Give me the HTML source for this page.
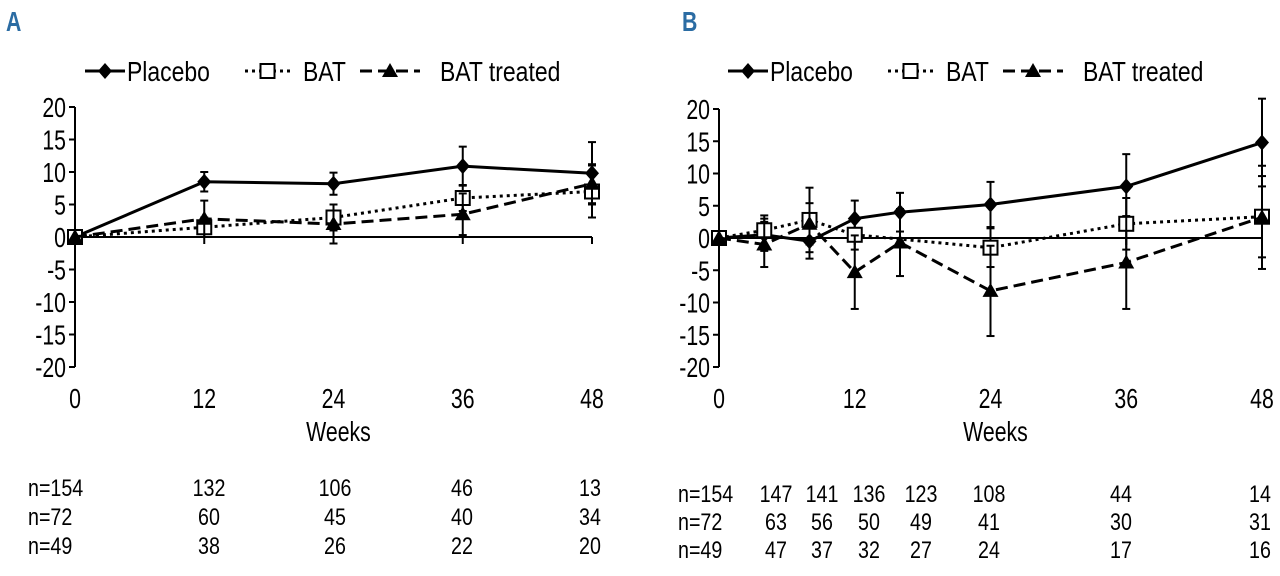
<!DOCTYPE html>
<html><head><meta charset="utf-8"><style>
html,body{margin:0;padding:0;background:#fff;}
svg{display:block;font-family:"Liberation Sans Narrow","Liberation Sans",sans-serif;}
</style></head><body>
<svg id="fig" width="1280" height="576" viewBox="0 0 1280 576"></svg>
<script>
// ---- Panel A data ----
const weeksA = [0, 12, 24, 36, 48];
const placeboA = [0, 8.5, 8.2, 10.9, 9.8];
const placeboErrA = [0, 1.5, 1.7, 3, 4.8];
const batA = [0, 1.5, 3, 6, 7];
const batErrA = [0, 1.5, 2, 2, 4];
const batTreatedA = [0, 2.8, 2, 3.5, 8.2];
const batTreatedErrA = [0, 2.8, 3, 3.2, 3];
// ---- Panel B data ----
const weeksB = [0, 4, 8, 12, 16, 24, 36, 48];
const placeboB = [0, 0.5, -0.5, 3, 4, 5.2, 8, 14.8];
const placeboErrB = [0, 2.5, 2.7, 2.8, 3, 3.5, 5, 6.8];
const weeksBatB = [0, 4, 8, 12, 24, 36, 48];
const batB = [0, 1.2, 2.8, 0.5, -1.5, 2.2, 3.3];
const batErrB = [0, 2.3, 5, 2.3, 3, 4, 6.3];
const batTreatedB = [0, -1, 2.2, -5.3, -0.7, -8.2, -3.8, 3.2];
const batTreatedErrB = [0, 3.5, 3.2, 5.7, 5.2, 7, 7.2, 8];
const yTicks = [20, 15, 10, 5, 0, -5, -10, -15, -20];
const xTicks = [0, 12, 24, 36, 48];
const nLabelsA = [["n=154","132","106","46","13"],["n=72","60","45","40","34"],["n=49","38","26","22","20"]];
const nLabelsB = [["n=154","147","141","136","123","108","44","14"],["n=72","63","56","50","49","41","30","31"],["n=49","47","37","32","27","24","17","16"]];

const NS = "http://www.w3.org/2000/svg";
const svg = document.getElementById("fig");
function mk(tag, attrs, parent, text){
  const e = document.createElementNS(NS, tag);
  for (const k in attrs) e.setAttribute(k, attrs[k]);
  if (text !== undefined) e.textContent = text;
  (parent || svg).appendChild(e);
  return e;
}
function txt(x, y, size, anchor, parent, s, extra, sx){
  const a = Object.assign({x:0, y:0, "font-size":size, "text-anchor":anchor || "start",
    transform:`translate(${x},${y}) scale(${sx || 0.76},1)`}, extra || {});
  return mk("text", a, parent, s);
}
function marker(g, type, x, y){
  let m;
  if (type === "diamond") m = mk("polygon", {points:`${x},${y-8} ${x+7},${y} ${x},${y+8} ${x-7},${y}`, fill:"#000"}, g);
  else if (type === "square") m = mk("rect", {x:x-7, y:y-7, width:14, height:14, fill:"#fff", stroke:"#000", "stroke-width":2}, g);
  else m = mk("polygon", {points:`${x},${y-8} ${x+8},${y+6} ${x-8},${y+6}`, fill:"#000"}, g);
  return m;
}
const dashes = {diamond:"", square:"3,4", triangle:"12,6"};

function panel(opts){
  const {x0, x1, y20, ym20, letter, lx, legendX} = opts;
  const g = mk("g", {});
  
  
  const X = w => x0 + (x1 - x0) * w / 48;
  const Y = v => y20 + (ym20 - y20) * (20 - v) / 40;
  const t = txt(lx, 31, 28, "start", g, letter, {"font-weight":"bold", fill:"#2b6ca3"});
  
  
  // legend
  const leg = mk("g", {}, g);
  
  
  const items = [["diamond","Placebo",0,40,42],["square","BAT",160,45,58],["triangle","BAT treated",275,60,80]];
  items.forEach(([type,label,off,len,tx])=>{
    const e = mk("g", {}, leg);
    
    
    const lx0 = legendX + off;
    mk("line", {x1:lx0, y1:71, x2:lx0+len, y2:71, stroke:"#000", "stroke-width":3, "stroke-dasharray":dashes[type]}, e);
    marker(e, type, lx0+len/2, 71);
    txt(lx0+tx, 81, 28, "start", e, label, null, 0.82);
  });
  // axes
  const ax = mk("g", {}, g);
  
  
  mk("line", {x1:x0, y1:Y(20), x2:x0, y2:Y(-20), stroke:"#000", "stroke-width":2}, ax);
  yTicks.forEach(v=>{
    mk("line", {x1:x0-6, y1:Y(v), x2:x0, y2:Y(v), stroke:"#000", "stroke-width":2}, ax);
    txt(x0-9, Y(v)+10, 28, "end", ax, String(v));
  });
  const xa = mk("g", {}, g);
  
  
  mk("line", {x1:x0, y1:Y(0), x2:x1, y2:Y(0), stroke:"#000", "stroke-width":2}, xa);
  xTicks.forEach(w=>{
    mk("line", {x1:X(w), y1:Y(0), x2:X(w), y2:Y(0)+7, stroke:"#000", "stroke-width":2}, xa);
    txt(X(w), 408, 28, "middle", xa, String(w));
  });
  const xt = txt((x0+x1)/2 + 5, 441, 28, "middle", g, "Weeks");
  
  
  // series
  opts.series.forEach(s=>{
    const sg = mk("g", {}, g);
    
    
    s.w.forEach((w,i)=>{
      if (!s.e[i]) return;
      const x = X(w);
      mk("line", {x1:x, y1:Y(s.v[i]+s.e[i]), x2:x, y2:Y(s.v[i]-s.e[i]), stroke:"#000", "stroke-width":2}, sg);
      mk("line", {x1:x-4, y1:Y(s.v[i]+s.e[i]), x2:x+4, y2:Y(s.v[i]+s.e[i]), stroke:"#000", "stroke-width":2}, sg);
      mk("line", {x1:x-4, y1:Y(s.v[i]-s.e[i]), x2:x+4, y2:Y(s.v[i]-s.e[i]), stroke:"#000", "stroke-width":2}, sg);
    });
    const pts = s.w.map((w,i)=>X(w)+","+Y(s.v[i])).join(" ");
    mk("polyline", {points:pts, fill:"none", stroke:"#000", "stroke-width":3, "stroke-dasharray":dashes[s.type]}, sg);
    s.w.forEach((w,i)=>{
      const m = marker(sg, s.type, X(w), Y(s.v[i]));
      
      
    });
  });
  // table
  const tb = mk("g", {}, g);
  
  
  opts.table.forEach((row,r)=>{
    row.forEach((s,c)=>{
      if (c === 0) txt(opts.tableLabelX, opts.tableY[r], 24, "start", tb, s, null, 0.82);
      else txt(opts.tableCols[c-1], opts.tableY[r], 24, "middle", tb, s, null, 0.82);
    });
  });
}

panel({x0:75, x1:592, y20:107, ym20:367, letter:"A", lx:6, legendX:85,
  series:[
    {name:"placebo", type:"diamond", w:weeksA, v:placeboA, e:placeboErrA},
    {name:"bat", type:"square", w:weeksA, v:batA, e:batErrA},
    {name:"bat-treated", type:"triangle", w:weeksA, v:batTreatedA, e:batTreatedErrA}],
  table:nLabelsA, tableLabelX:28, tableY:[496,525,554],
  tableCols:[209,335,462,590]});

panel({x0:719, x1:1262, y20:109, ym20:367, letter:"B", lx:682, legendX:728,
  series:[
    {name:"placebo", type:"diamond", w:weeksB, v:placeboB, e:placeboErrB},
    {name:"bat", type:"square", w:weeksBatB, v:batB, e:batErrB},
    {name:"bat-treated", type:"triangle", w:weeksB, v:batTreatedB, e:batTreatedErrB}],
  table:nLabelsB, tableLabelX:678, tableY:[502,530,558],
  tableCols:[776,822,869,921,989,1121,1260]});
</script>
</body></html>
